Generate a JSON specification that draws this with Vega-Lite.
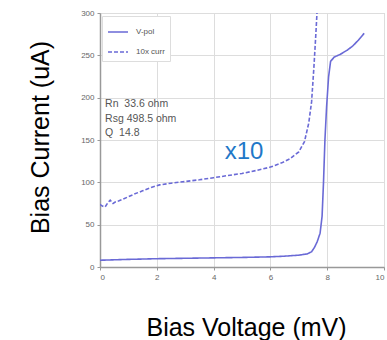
{
  "$schema": "https://vega.github.io/schema/vega-lite/v6.json",
  "width": 284,
  "height": 254,
  "autosize": {"type": "none"},
  "padding": {"left": 100, "top": 13, "right": 3, "bottom": 73},
  "background": "white",
  "config": {
    "view": {"stroke": "#cccccc", "strokeWidth": 1},
    "font": "Liberation Sans"
  },
  "datasets": {
    "curves": [
      {"v": 0, "i": 8, "series": "V-pol"},
      {"v": 0.5, "i": 8.5, "series": "V-pol"},
      {"v": 1, "i": 9, "series": "V-pol"},
      {"v": 2, "i": 9.8, "series": "V-pol"},
      {"v": 3, "i": 10.3, "series": "V-pol"},
      {"v": 4, "i": 10.8, "series": "V-pol"},
      {"v": 5, "i": 11.3, "series": "V-pol"},
      {"v": 6, "i": 12, "series": "V-pol"},
      {"v": 6.5, "i": 12.8, "series": "V-pol"},
      {"v": 7, "i": 14, "series": "V-pol"},
      {"v": 7.3, "i": 15.5, "series": "V-pol"},
      {"v": 7.45, "i": 18, "series": "V-pol"},
      {"v": 7.55, "i": 23, "series": "V-pol"},
      {"v": 7.65, "i": 30, "series": "V-pol"},
      {"v": 7.75, "i": 40, "series": "V-pol"},
      {"v": 7.82, "i": 60, "series": "V-pol"},
      {"v": 7.87, "i": 100, "series": "V-pol"},
      {"v": 7.92, "i": 150, "series": "V-pol"},
      {"v": 7.98, "i": 190, "series": "V-pol"},
      {"v": 8.05, "i": 225, "series": "V-pol"},
      {"v": 8.12, "i": 243, "series": "V-pol"},
      {"v": 8.25, "i": 248, "series": "V-pol"},
      {"v": 8.45, "i": 251, "series": "V-pol"},
      {"v": 8.7, "i": 256, "series": "V-pol"},
      {"v": 8.9, "i": 261, "series": "V-pol"},
      {"v": 9.1, "i": 268, "series": "V-pol"},
      {"v": 9.3, "i": 276, "series": "V-pol"},
      {"v": 0, "i": 74, "series": "10x curr"},
      {"v": 0.08, "i": 72, "series": "10x curr"},
      {"v": 0.18, "i": 71, "series": "10x curr"},
      {"v": 0.28, "i": 76, "series": "10x curr"},
      {"v": 0.36, "i": 79, "series": "10x curr"},
      {"v": 0.46, "i": 75, "series": "10x curr"},
      {"v": 0.55, "i": 77, "series": "10x curr"},
      {"v": 0.65, "i": 78, "series": "10x curr"},
      {"v": 0.8, "i": 80, "series": "10x curr"},
      {"v": 1.0, "i": 83, "series": "10x curr"},
      {"v": 1.2, "i": 86, "series": "10x curr"},
      {"v": 1.5, "i": 90, "series": "10x curr"},
      {"v": 1.8, "i": 94, "series": "10x curr"},
      {"v": 2.1, "i": 97, "series": "10x curr"},
      {"v": 2.5, "i": 99, "series": "10x curr"},
      {"v": 3, "i": 101, "series": "10x curr"},
      {"v": 3.5, "i": 103, "series": "10x curr"},
      {"v": 4, "i": 105.5, "series": "10x curr"},
      {"v": 4.5, "i": 108, "series": "10x curr"},
      {"v": 5, "i": 110.5, "series": "10x curr"},
      {"v": 5.5, "i": 114, "series": "10x curr"},
      {"v": 6, "i": 118, "series": "10x curr"},
      {"v": 6.4, "i": 123, "series": "10x curr"},
      {"v": 6.7, "i": 128, "series": "10x curr"},
      {"v": 7.0, "i": 136, "series": "10x curr"},
      {"v": 7.2, "i": 148, "series": "10x curr"},
      {"v": 7.35, "i": 170, "series": "10x curr"},
      {"v": 7.45, "i": 195, "series": "10x curr"},
      {"v": 7.53, "i": 235, "series": "10x curr"},
      {"v": 7.6, "i": 275, "series": "10x curr"},
      {"v": 7.64, "i": 300, "series": "10x curr"}
    ],
    "stats": [
      {"v": 0.18, "i": 192, "label": "Rn\u00a0\u00a033.6 ohm"},
      {"v": 0.18, "i": 175, "label": "Rsg 498.5 ohm"},
      {"v": 0.18, "i": 158, "label": "Q\u00a0\u00a014.8"}
    ],
    "note": [
      {"v": 5.07, "i": 136, "label": "x10"}
    ]
  },
  "layer": [
    {
      "data": {"name": "curves"},
      "mark": {"type": "line", "color": "#6a6ad6", "strokeWidth": 1.6, "clip": true},
      "encoding": {
        "x": {
          "field": "v", "type": "quantitative",
          "scale": {"domain": [0, 10], "nice": false},
          "axis": {
            "title": "Bias Voltage (mV)",
            "values": [0, 2, 4, 6, 8, 10],
            "grid": true, "gridColor": "#dddddd",
            "domainColor": "#999999", "domainWidth": 1.5,
            "tickColor": "#999999", "tickSize": 3,
            "labelFontSize": 8, "labelColor": "#666666", "labelPadding": 3,
            "titleFontSize": 25, "titleFontWeight": "normal", "titleColor": "#000000",
            "titleX": 146, "titleY": 68, "titleBaseline": "alphabetic", "titleAlign": "center"
          }
        },
        "y": {
          "field": "i", "type": "quantitative",
          "scale": {"domain": [0, 300], "nice": false},
          "axis": {
            "title": "Bias Current (uA)",
            "values": [0, 50, 100, 150, 200, 250, 300],
            "grid": true, "gridColor": "#dddddd",
            "domainColor": "#999999", "domainWidth": 1.5,
            "tickColor": "#999999", "tickSize": 3,
            "labelFontSize": 8, "labelColor": "#666666", "labelPadding": 3,
            "titleFontSize": 25, "titleFontWeight": "normal", "titleColor": "#000000",
            "titleX": -52, "titleY": 124, "titleBaseline": "alphabetic", "titleAlign": "center", "titleAngle": -90
          }
        },
        "strokeDash": {
          "field": "series", "type": "nominal",
          "scale": {"domain": ["V-pol", "10x curr"], "range": [[1, 0], [4, 2]]},
          "legend": {
            "title": null,
            "orient": "none", "legendX": 2, "legendY": 3,
            "symbolType": "stroke", "symbolSize": 400,
            "symbolStrokeColor": "#6a6ad6", "symbolStrokeWidth": 1.6,
            "labelFontSize": 8, "labelColor": "#555555",
            "strokeColor": "#dddddd", "fillColor": "white", "padding": 5,
            "rowPadding": 5, "labelOffset": 7
          }
        }
      }
    },
    {
      "data": {"name": "stats"},
      "mark": {"type": "text", "align": "left", "baseline": "middle", "fontSize": 10.5, "color": "#555555"},
      "encoding": {
        "x": {"field": "v", "type": "quantitative"},
        "y": {"field": "i", "type": "quantitative"},
        "text": {"field": "label"}
      }
    },
    {
      "data": {"name": "note"},
      "mark": {"type": "text", "align": "center", "baseline": "middle", "fontSize": 24, "color": "#1f78c8"},
      "encoding": {
        "x": {"field": "v", "type": "quantitative"},
        "y": {"field": "i", "type": "quantitative"},
        "text": {"field": "label"}
      }
    }
  ]
}
